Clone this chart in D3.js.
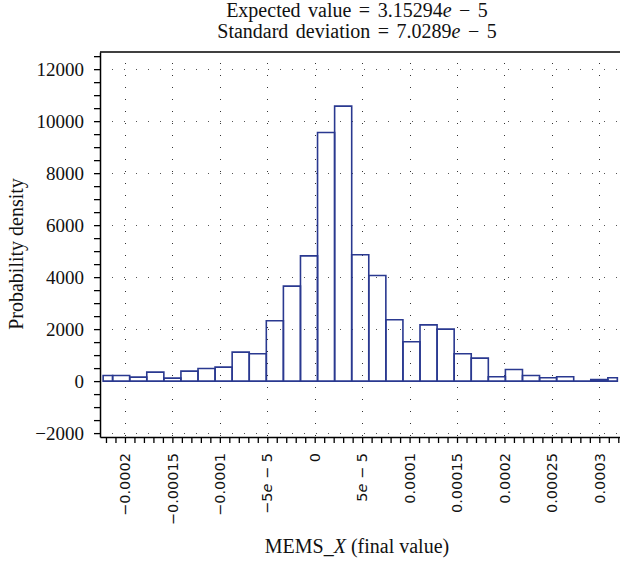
<!DOCTYPE html>
<html>
<head>
<meta charset="utf-8">
<script src="https://cdn.jsdelivr.net/npm/d3@7"></script>
<style>
  body { margin: 0; background: #fff; }
  svg { display: block; }
</style>
</head>
<body>
<svg id="drawing_region"></svg>
<script>
// histogram bin edges (value of MEMS_X)
const binEdges = [
  -2.23e-4, -2.13e-4, -1.95e-4, -1.77e-4, -1.59e-4, -1.41e-4, -1.23e-4, -1.05e-4,
  -0.87e-4, -0.69e-4, -0.51e-4, -0.33e-4, -0.15e-4, 0.03e-4, 0.21e-4, 0.39e-4,
  0.57e-4, 0.75e-4, 0.93e-4, 1.11e-4, 1.29e-4, 1.47e-4, 1.65e-4, 1.83e-4,
  2.01e-4, 2.19e-4, 2.37e-4, 2.55e-4, 2.73e-4, 2.91e-4, 3.09e-4, 3.19e-4
];
// probability density of each bin
const density = [
  215, 215, 154, 346, 115, 385, 485, 538, 1115, 1050, 2319, 3654, 4819, 9562, 10577,
  4858, 4063, 2358, 1512, 2165, 2000, 1050, 885, 165, 446, 215, 127, 165, 0, 62, 127
];

const xTickValues = [-2e-4, -1.5e-4, -1e-4, -5e-5, 0, 5e-5, 1e-4, 1.5e-4, 2e-4, 2.5e-4, 3e-4];
const xTickLabels = ['\u22120.0002', '\u22120.00015', '\u22120.0001', '\u22125e \u2212 5', '0',
  '5e \u2212 5', '0.0001', '0.00015', '0.0002', '0.00025', '0.0003'];
const yTickValues = [-2000, 0, 2000, 4000, 6000, 8000, 10000, 12000];

const titleLines = ['Expected value = 3.15294e \u2212 5', 'Standard deviation = 7.0289e \u2212 5'];

const config = {
  width: 620,
  height: 571,
  margin: {top: 52, right: 0, bottom: 134, left: 100}
};
const color = '#2a3990';

const svg = d3.select('#drawing_region')
  .attr('width', config.width)
  .attr('height', config.height);

const inner_width = config.width - config.margin.left - config.margin.right;
const inner_height = config.height - config.margin.top - config.margin.bottom;

const chart = svg.append('g')
  .attr('transform', `translate(${config.margin.left}, ${config.margin.top})`);

const xscale = d3.scaleLinear()
  .domain([-2.263e-4, 3.218e-4])
  .range([0, inner_width]);

const yscale = d3.scaleLinear()
  .domain([-2150, 12660])
  .range([inner_height, 0]);

// write a label, putting only the exponent "e" in italics
function richText(sel, str) {
  const parts = str.split(/e(?= \u2212)/);
  parts.forEach((p, i) => {
    if (i > 0) sel.append('tspan').attr('font-style', 'italic').text('e');
    sel.append('tspan').text(p);
  });
}

// dotted grid
chart.append('g')
  .selectAll('line')
  .data(xTickValues)
  .join('line')
  .attr('x1', d => Math.round(xscale(d)) + 0.5)
  .attr('x2', d => Math.round(xscale(d)) + 0.5)
  .attr('y1', 0)
  .attr('y2', inner_height)
  .attr('stroke', '#333')
  .attr('stroke-width', 1)
  .attr('stroke-dasharray', '1,11')
  .attr('stroke-dashoffset', -11);

chart.append('g')
  .selectAll('line')
  .data(yTickValues)
  .join('line')
  .attr('x1', 0)
  .attr('x2', inner_width)
  .attr('y1', d => Math.round(yscale(d)) + 0.5)
  .attr('y2', d => Math.round(yscale(d)) + 0.5)
  .attr('stroke', '#555')
  .attr('stroke-width', 1)
  .attr('stroke-dasharray', '1,11');

// histogram bars
chart.append('g')
  .selectAll('path')
  .data(density)
  .join('path')
  .attr('d', (d, i) => {
    const x0 = xscale(binEdges[i]), x1 = xscale(binEdges[i + 1]);
    const y0 = yscale(0), y1 = yscale(d);
    return `M${x0},${y0}V${y1}H${x1}V${y0}Z`;
  })
  .attr('fill', 'none')
  .attr('stroke', color)
  .attr('stroke-width', 1.6);

// axes
const yaxis = d3.axisLeft(yscale)
  .tickValues(d3.range(-2000, 12501, 500))
  .tickSize(6)
  .tickSizeOuter(0)
  .tickFormat('');
const yaxis_group = chart.append('g').call(yaxis);
yaxis_group.select('.domain').attr('stroke-width', 1.5);
yaxis_group.selectAll('.tick line').attr('stroke-width', 1.3);

yaxis_group.selectAll('.ylabel')
  .data(yTickValues)
  .join('text')
  .attr('class', 'ylabel')
  .attr('x', -16)
  .attr('y', d => yscale(d))
  .attr('dy', '0.34em')
  .attr('text-anchor', 'end')
  .attr('font-family', '"Liberation Serif", serif')
  .attr('font-size', 19)
  .attr('fill', '#111')
  .text(d => d3.format('d')(d));

const xaxis = d3.axisBottom(xscale)
  .tickValues(d3.range(-22, 33).map(i => i * 1e-5))
  .tickSize(6)
  .tickSizeOuter(0)
  .tickFormat('');
const xaxis_group = chart.append('g')
  .attr('transform', `translate(0, ${inner_height})`)
  .call(xaxis);
xaxis_group.select('.domain').attr('stroke-width', 1.5);
xaxis_group.selectAll('.tick line').attr('stroke-width', 1.3);

xaxis_group.selectAll('.xlabel')
  .data(xTickValues)
  .join('text')
  .attr('class', 'xlabel')
  .attr('transform', d => `translate(${xscale(d)}, 16) rotate(-90)`)
  .attr('dy', '0.36em')
  .attr('text-anchor', 'end')
  .attr('font-family', '"DejaVu Sans", sans-serif')
  .attr('font-size', 14.5)
  .attr('fill', '#111')
  .each(function(d, i) { richText(d3.select(this), xTickLabels[i]); });

// top frame line
chart.append('line')
  .attr('x1', 0)
  .attr('x2', inner_width)
  .attr('y1', 0)
  .attr('y2', 0)
  .attr('stroke', '#000')
  .attr('stroke-width', 1.5);

// titles
const serif = '"Liberation Serif", serif';
svg.selectAll('.title')
  .data(titleLines)
  .join('text')
  .attr('class', 'title')
  .attr('x', 357)
  .attr('y', (d, i) => 17 + i * 20.5)
  .attr('text-anchor', 'middle')
  .attr('font-family', serif)
  .attr('font-size', 20)
  .attr('word-spacing', 2.5)
  .attr('fill', '#111')
  .each(function(d) { richText(d3.select(this), d); });

svg.append('text')
  .attr('transform', 'translate(23, 254) rotate(-90)')
  .attr('text-anchor', 'middle')
  .attr('font-family', serif)
  .attr('font-size', 20)
  .attr('fill', '#111')
  .text('Probability density');

const xtitle = svg.append('text')
  .attr('x', 357)
  .attr('y', 553)
  .attr('text-anchor', 'middle')
  .attr('font-family', serif)
  .attr('font-size', 20)
  .attr('fill', '#111');
xtitle.append('tspan').text('MEMS_');
xtitle.append('tspan').attr('font-style', 'italic').text('X');
xtitle.append('tspan').text(' (final value)');
</script>
</body>
</html>
